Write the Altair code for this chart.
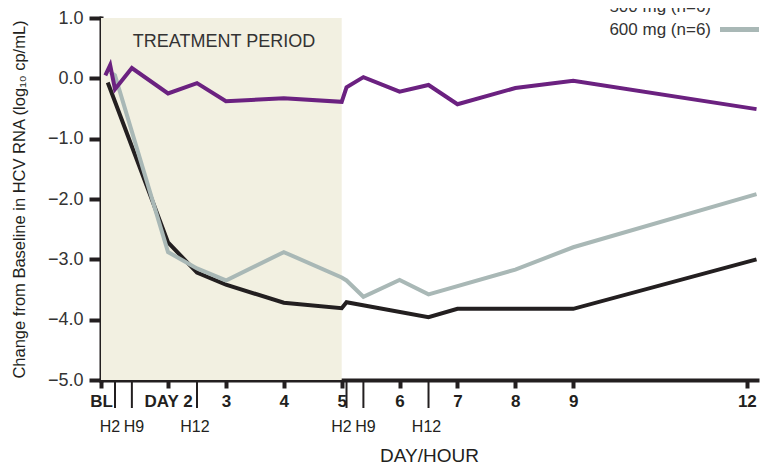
import altair as alt
import pandas as pd

# ---------------- data (x = hours after first dose on day 1) ----------------
black_hours = [-1, 24, 36, 48, 72, 96, 98, 132, 144, 168, 192, 268]
black_vals = [-0.07, -2.72, -3.22, -3.42, -3.72, -3.81, -3.71, -3.96, -3.82, -3.82, -3.82, -3.0]

grey_hours = [0, 2, 24, 36, 48, 72, 96, 98, 105, 120, 132, 168, 192, 268]
grey_vals = [0.10, 0.05, -2.88, -3.15, -3.35, -2.88, -3.30, -3.35, -3.62, -3.34, -3.58, -3.17, -2.80, -1.92]

purple_hours = [-2, 0, 2, 9, 24, 36, 48, 72, 96, 98, 105, 120, 132, 144, 168, 192, 268]
purple_vals = [0.05, 0.22, -0.18, 0.17, -0.25, -0.08, -0.38, -0.33, -0.39, -0.15, 0.02, -0.22, -0.11, -0.43, -0.16, -0.04, -0.51]

series_names = ["500 mg (n=6)", "600 mg (n=6)", "third cohort"]

day_tick_hours = [-3.8, 24, 48, 72, 96, 120, 144, 168, 192, 264]
hour_tick_hours = [2, 9, 36, 98, 105, 132]
hour_tick_labels = ["H2", "H9", "H12", "H2", "H9", "H12"]

treatment_start = [-3.8]
treatment_end = [96]

# ---------------- style ----------------
BLACK = "#231f20"
GREY = "#a9b8b6"
PURPLE = "#6b2180"
CREAM = "#f2f0e1"
TXT = "#333333"
FONT = "Liberation Sans"
W, H = 656, 362

x_scale = alt.Scale(domain=[-3.8, 268.2], nice=False, zero=False)
y_scale = alt.Scale(domain=[-5, 1], nice=False, zero=False)

x_axis = alt.Axis(
    values=day_tick_hours,
    labelExpr="datum.value < 0 ? 'BL' : datum.value == 24 ? 'DAY 2' : format(datum.value / 24 + 1, 'd')",
    labelFont=FONT, labelFontSize=17, labelFontWeight="bold", labelColor=BLACK,
    labelFlush=False, labelOverlap=False, labelPadding=5,
    tickSize=8, tickWidth=4, tickColor=BLACK,
    domainColor=BLACK, domainWidth=4, domainCap="square",
    grid=False,
    title="DAY/HOUR", titleFont=FONT, titleFontSize=19, titleFontWeight="normal",
    titleColor=BLACK, titleY=81, titleBaseline="alphabetic",
)
y_axis = alt.Axis(
    values=[-5, -4, -3, -2, -1, 0, 1], format=".1f",
    labelFont=FONT, labelFontSize=18, labelColor=TXT, labelPadding=6,
    tickSize=12, tickWidth=4, tickColor=BLACK,
    domainColor=BLACK, domainWidth=4, domainCap="square",
    grid=False,
    title="Change from Baseline in HCV RNA (log₁₀ cp/mL)", titleFont=FONT,
    titleFontSize=16.5, titleFontWeight="normal", titleColor=BLACK, titlePadding=20,
)

period_df = pd.DataFrame({"start": treatment_start, "end": treatment_end, "lo": [-5], "hi": [1]})
shade = alt.Chart(period_df).mark_rect(color=CREAM).encode(
    x=alt.X("start:Q", scale=x_scale, axis=x_axis),
    x2="end:Q",
    y=alt.Y("lo:Q", scale=y_scale, axis=y_axis),
    y2="hi:Q",
)

period_label = alt.Chart(period_df).mark_text(
    text="TREATMENT PERIOD", font=FONT, fontSize=18, color=TXT,
    align="center", baseline="alphabetic",
).encode(x=alt.value(123), y=alt.value(29))

def series_layer(hours, vals, name, color):
    df = pd.DataFrame({"hour": hours, "value": vals, "series": name})
    return alt.Chart(df).mark_line(color=color, strokeWidth=4, strokeJoin="miter").encode(
        x=alt.X("hour:Q", scale=x_scale, axis=x_axis),
        y=alt.Y("value:Q", scale=y_scale, axis=y_axis),
    )

black_line = series_layer(black_hours, black_vals, series_names[0], BLACK)
grey_line = series_layer(grey_hours, grey_vals, series_names[1], GREY)
purple_line = series_layer(purple_hours, purple_vals, series_names[2], PURPLE)

hour_df = pd.DataFrame({"hour": hour_tick_hours, "label": hour_tick_labels})
hour_ticks = alt.Chart(hour_df).mark_rule(color=BLACK, strokeWidth=2).encode(
    x=alt.X("hour:Q", scale=x_scale, axis=x_axis),
    y=alt.value(H + 2), y2=alt.value(H + 28),
)
hour_label_layers = []
for lab, dx in [("H2", -5), ("H9", 2), ("H12", -2)]:
    hour_label_layers.append(
        alt.Chart(hour_df).transform_filter(alt.datum.label == lab).mark_text(
            font=FONT, fontSize=16, color=BLACK, align="center", baseline="alphabetic", dx=dx,
        ).encode(
            x=alt.X("hour:Q", scale=x_scale, axis=x_axis),
            y=alt.value(H + 52),
            text="label:N",
        )
    )

# legend (top right; the first entry is cut by the top edge as in the original)
leg_df = pd.DataFrame({"label": series_names[:2]})
legend_layers = []
for name, color, ty, sy in [(series_names[0], BLACK, -6.5, -12.5), (series_names[1], GREY, 17, 11.5)]:
    legend_layers.append(
        alt.Chart(leg_df).transform_filter(alt.datum.label == name).mark_text(
            font=FONT, fontSize=17, color=TXT, align="right", baseline="alphabetic",
        ).encode(x=alt.value(610), y=alt.value(ty), text="label:N")
    )
    legend_layers.append(
        alt.Chart(leg_df).transform_filter(alt.datum.label == name).mark_rule(
            color=color, strokeWidth=5,
        ).encode(x=alt.value(619), x2=alt.value(658), y=alt.value(sy))
    )

chart = alt.layer(
    shade, period_label, black_line, grey_line, purple_line, hour_ticks,
    *hour_label_layers, *legend_layers,
).properties(
    width=W, height=H,
    padding={"left": 93, "top": 10, "right": 7, "bottom": 85},
    autosize=alt.AutoSizeParams(type="none"),
).configure(font=FONT).configure_view(stroke=None).configure_axis(grid=False)

chart.save("out.html", embed_options={"renderer": "svg", "actions": False})
